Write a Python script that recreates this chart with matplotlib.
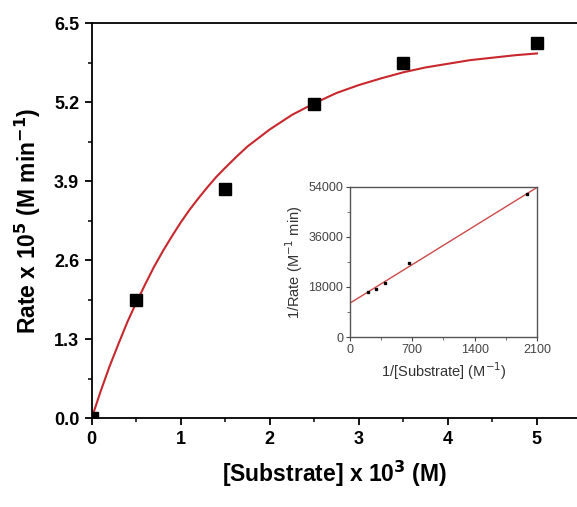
import matplotlib.pyplot as plt
import numpy as np

plt.rcParams['font.family'] = ['Liberation Sans', 'DejaVu Sans']

# main plot data
sub_conc = [0.0, 0.5, 1.5, 2.5, 3.5, 5.0]
rate = [0.0, 1.94, 3.77, 5.16, 5.84, 6.17]

# fitted curve
fit_x = [0.0, 0.1, 0.2, 0.3, 0.4, 0.5, 0.6, 0.7, 0.8, 0.9, 1.0, 1.1, 1.2, 1.3,
         1.4, 1.5, 1.625, 1.75, 1.875, 2.0, 2.25, 2.5, 2.75, 3.0, 3.25, 3.5,
         3.75, 4.0, 4.25, 4.5, 4.75, 5.0]
fit_y = [0.0, 0.44, 0.85, 1.22, 1.58, 1.90, 2.20, 2.49, 2.75, 2.99, 3.22, 3.43,
         3.62, 3.80, 3.97, 4.12, 4.30, 4.47, 4.61, 4.75, 4.99, 5.18, 5.35, 5.48,
         5.59, 5.69, 5.77, 5.83, 5.89, 5.93, 5.97, 6.00]

# Lineweaver-Burk inset
inv_sub = [205, 291, 392, 658, 1992]
inv_rate = [16250, 17200, 19350, 26500, 51600]
lb_x = [0, 2100]
lb_y = [12200, 53800]

fig = plt.figure(figsize=(5.77, 5.07), dpi=100)
ax = fig.add_axes([0.159, 0.1755, 0.841, 0.779])

ax.plot(fit_x, fit_y, color='#c8282d', lw=1.5, zorder=2)
ax.plot(sub_conc, rate, 's', color='black', ms=8, zorder=3)

ax.set_xlim(0, 5.45)
ax.set_ylim(0, 6.5)
ax.set_xticks([0, 1, 2, 3, 4, 5])
ax.set_xticks(np.arange(0.5, 5.5, 1.0), minor=True)
ax.set_yticks([0.0, 1.3, 2.6, 3.9, 5.2, 6.5])
ax.set_yticks([0.65, 1.95, 3.25, 4.55, 5.85], minor=True)
ax.yaxis.set_major_formatter(plt.FuncFormatter(lambda v, _: f'{v:.1f}'))
ax.spines['right'].set_visible(False)
for s in ['left', 'bottom', 'top']:
    ax.spines[s].set_linewidth(1.3)
ax.tick_params(which='major', direction='out', length=5, width=1.3,
               labelsize=13, pad=4)
ax.tick_params(which='minor', direction='out', length=3, width=1.1)
for lab in ax.get_xticklabels() + ax.get_yticklabels():
    lab.set_fontweight('bold')

ax.set_xlabel(r'[Substrate] x 10$^{\mathbf{3}}$ (M)', fontsize=16.5,
              fontweight='bold', labelpad=8)
ax.set_ylabel(r'Rate x 10$^{\mathbf{5}}$ (M min$^{\mathbf{-1}}$)', fontsize=16.5,
              fontweight='bold', labelpad=8)

# inset
ins = fig.add_axes([0.6066, 0.3353, 0.324, 0.296])
ins.plot(lb_x, lb_y, color='#cc4a4a', lw=1.0, zorder=2)
ins.plot(inv_sub, inv_rate, 's', color='black', ms=2, zorder=3)
ins.set_xlim(0, 2100)
ins.set_ylim(0, 54000)
ins.set_xticks([0, 700, 1400, 2100])
ins.set_xticks([350, 1050, 1750], minor=True)
ins.set_yticks([0, 18000, 36000, 54000])
ins.set_yticks([9000, 27000, 45000], minor=True)
for s in ins.spines.values():
    s.set_color('#555555')
    s.set_linewidth(1.0)
ins.tick_params(which='major', direction='out', length=3, width=0.8,
                labelsize=9, colors='#444444', pad=2)
ins.tick_params(which='minor', direction='out', length=2, width=0.6,
                colors='#555555')
ins.set_xlabel(r'1/[Substrate] (M$^{-1}$)', fontsize=10.5, color='#333333',
               labelpad=3)
ins.set_ylabel(r'1/Rate (M$^{-1}$ min)', fontsize=10.5, color='#333333',
               labelpad=2)

fig.savefig('out.png', dpi=100)
